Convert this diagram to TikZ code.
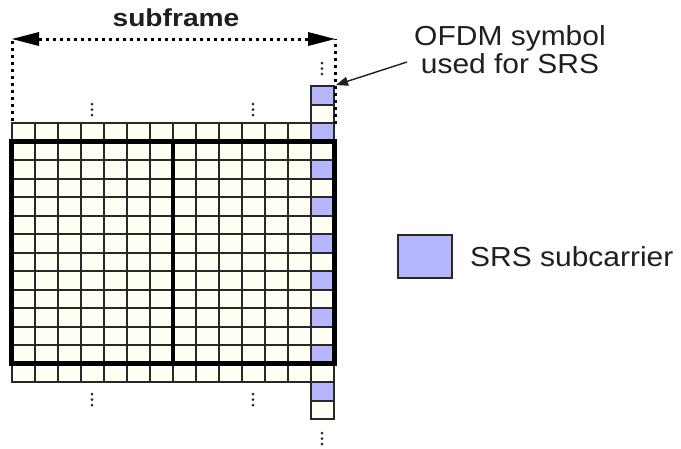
\documentclass[tikz,border=0pt]{standalone}
\usepackage{fontspec}
\setmainfont{Liberation Sans}
\newfontfamily\titlefont[FakeStretch=1.15]{Liberation Sans Bold}
\newfontfamily\lblfont[FakeStretch=1.09]{Liberation Sans}
\usetikzlibrary{arrows.meta}
\definecolor{cellfill}{RGB}{255,255,244}
\definecolor{srsblue}{RGB}{182,182,255}
\definecolor{gridline}{RGB}{40,40,40}
\tikzset{
  cell/.style={draw=gridline, line width=1.8pt, fill=cellfill},
  srscell/.style={draw=gridline, line width=1.8pt, fill=srsblue},
  bold frame/.style={draw=black, line width=5pt},
  dimline/.style={line width=3pt, dash pattern=on 3pt off 4pt},
  vdots/.style={fill=gridline},
  lbl/.style={inner sep=0pt, font=\lblfont\fontsize{27.5}{30}\selectfont, text=black!88}
}
\begin{document}
\begin{tikzpicture}[x=1pt,y=-1pt]
\useasboundingbox (0,0) rectangle (681,448);
\def\cw{23.04}
\def\rh{18.5}
\def\gx{11.7}
\def\gy{141.7}
% ordinary columns: top extra row, 12 main rows, bottom extra row
\foreach \c in {0,...,12}{
  \foreach \r in {0,...,13}{
    \draw[cell] ({\gx+\c*\cw},{\gy+(\r-1)*\rh}) rectangle ++(\cw,\rh);
  }
}
% SRS column
\foreach \r in {-2,...,15}{
  \ifodd\r\relax
    \draw[cell] ({\gx+13*\cw},{\gy+(\r-1)*\rh}) rectangle ++(\cw,\rh);
  \else
    \draw[srscell] ({\gx+13*\cw},{\gy+(\r-1)*\rh}) rectangle ++(\cw,\rh);
  \fi
}
% thick subframe border and slot divider
\draw[bold frame] (\gx,\gy) rectangle ({\gx+14*\cw},{\gy+12*\rh});
\draw[draw=black, line width=3.5pt] ({\gx+7*\cw},\gy) -- ({\gx+7*\cw},{\gy+12*\rh});
% dimension
\coordinate (dl) at (12,39);
\coordinate (dr) at (335,39);
\coordinate (dlb) at (12,121);
\coordinate (drb) at (335,124);
\draw[dimline] (dlb) -- (dl);
\draw[dimline] (drb) -- (dr);
\draw[dimline, {Triangle[length=27pt,width=14pt,line width=0pt]}-{Triangle[length=27pt,width=14pt,line width=0pt]}] (dl) -- (dr);
\node[inner sep=0pt, anchor=base, font=\titlefont\fontsize{24.5}{28}\selectfont, text=black!88] (sub) at (176,26) {subframe};
% vertical dots
\foreach \x/\y in {92/104, 253/104, 322/63, 92/394, 253/394, 322/433}{
  \foreach \k in {0,1,2}{
    \fill[vdots] (\x,{\y+\k*5.5}) circle (1.5pt);
  }
}
% OFDM label
\node[lbl, anchor=base] (ofdm1) at (510,45) {OFDM symbol};
\node[lbl, anchor=base] (ofdm2) at (510,73) {used for SRS};
\coordinate (arrs) at (407,62);
\coordinate (arre) at (336,85);
\draw[line width=1.4pt, draw=black!88, -{Triangle[length=12pt,width=9pt]}] (arrs) -- (arre);
% legend
\draw[draw=gridline, line width=2pt, fill=srsblue] (398,235) rectangle (452,278);
\node[lbl, anchor=base west] (leg) at (470,266.5) {SRS subcarrier};
\end{tikzpicture}
\end{document}
